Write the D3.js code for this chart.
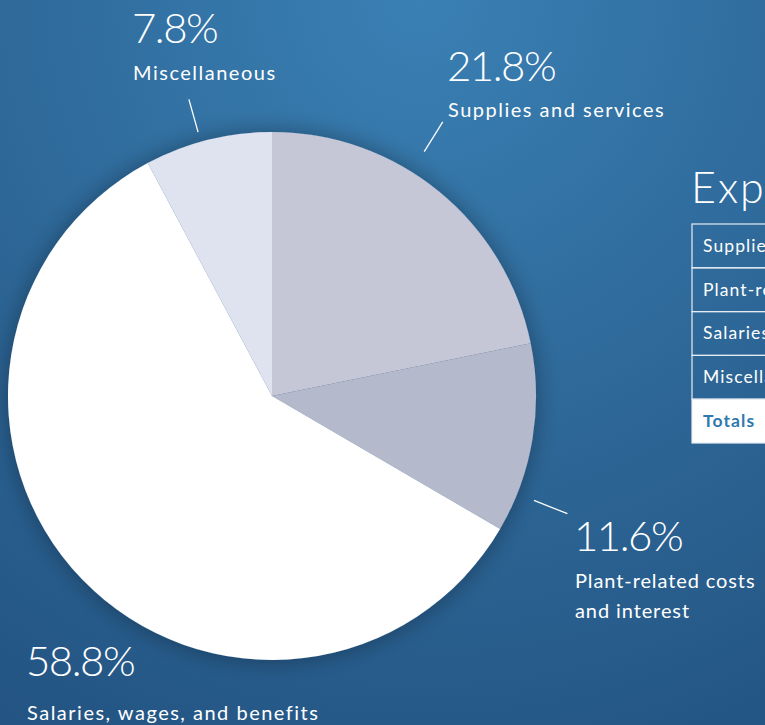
<!DOCTYPE html>
<html>
<head>
<meta charset="utf-8">
<script src="https://cdn.jsdelivr.net/npm/d3@7"></script>
<style>
  html, body { margin: 0; padding: 0; overflow: hidden; background: #2a6090; }
  svg { display: block; }
</style>
</head>
<body>
<svg id="chart" width="765" height="725"></svg>
<script>
const categories = ['Supplies and services', 'Plant-related costs and interest', 'Salaries, wages, and benefits', 'Miscellaneous'];
const shares = [21.8, 11.6, 58.8, 7.8];
const sliceColors = ['#c5c7d7', '#b4b9cb', '#ffffff', '#dfe2ef'];
const labelLines = [['Supplies and services'], ['Plant-related costs', 'and interest'], ['Salaries, wages, and benefits'], ['Miscellaneous']];
const tableTitle = 'Expenditures';
const tableRows = ['Supplies and services', 'Plant-related costs and interest', 'Salaries, wages, and benefits', 'Miscellaneous', 'Totals'];

const width = 765, height = 725;
const cx = 272, cy = 396, radius = 264;
const numFont = 'Lato, sans-serif';
const txtFont = 'Lato, "Open Sans", sans-serif';

const svg = d3.select('#chart');
const defs = svg.append('defs');

const bg = defs.append('radialGradient')
  .attr('id', 'bg')
  .attr('gradientUnits', 'userSpaceOnUse')
  .attr('cx', 420).attr('cy', 0).attr('r', 900);
bg.append('stop').attr('offset', '0%').attr('stop-color', '#3a80b4');
bg.append('stop').attr('offset', '55%').attr('stop-color', '#2c6595');
bg.append('stop').attr('offset', '100%').attr('stop-color', '#21507e');

const shadow = defs.append('filter')
  .attr('id', 'shadow')
  .attr('x', '-20%').attr('y', '-20%').attr('width', '140%').attr('height', '140%');
shadow.append('feGaussianBlur').attr('in', 'SourceAlpha').attr('stdDeviation', 12);
shadow.append('feComponentTransfer').append('feFuncA').attr('type', 'linear').attr('slope', 0.35);
const merge = shadow.append('feMerge');
merge.append('feMergeNode');
merge.append('feMergeNode').attr('in', 'SourceGraphic');

svg.append('rect').attr('width', width).attr('height', height).attr('fill', 'url(#bg)');

// pie
const pie = d3.pie().sort(null).value(d => d);
const arc = d3.arc().innerRadius(0).outerRadius(radius);
const arcs = pie(shares);

const g = svg.append('g')
  .attr('transform', `translate(${cx},${cy})`)
  .attr('filter', 'url(#shadow)');

g.selectAll('path')
  .data(arcs)
  .join('path')
  .attr('d', arc)
  .attr('fill', (d, i) => sliceColors[i]);

// leader lines (angle from 12 o'clock, inner and outer radius)
const leader = [
  { a: 0.557, r0: 288, r1: 323 },
  { a: 1.95, r0: 282, r1: 318 },
  null,
  { a: 6.01, r0: 274, r1: 308 }
];

svg.append('g')
  .selectAll('line')
  .data(arcs.filter((d, i) => leader[i]))
  .join('line')
  .each(function (d) {
    const l = leader[d.index];
    d3.select(this)
      .attr('x1', cx + l.r0 * Math.sin(l.a))
      .attr('y1', cy - l.r0 * Math.cos(l.a))
      .attr('x2', cx + l.r1 * Math.sin(l.a))
      .attr('y2', cy - l.r1 * Math.cos(l.a));
  })
  .attr('stroke', '#ffffff')
  .attr('stroke-width', 1.3);

// labels
const labelPos = [
  { x: 447, y: 81, dy: 36, ls: 1.5 },
  { x: 574, y: 551, dy: 37, ls: 0.9 },
  { x: 26, y: 676, dy: 44, ls: 1.5 },
  { x: 132, y: 43, dy: 37, ls: 1.5 }
];

const labels = svg.append('g')
  .selectAll('g')
  .data(arcs)
  .join('g')
  .attr('transform', (d, i) => `translate(${labelPos[i].x},${labelPos[i].y})`);

labels.append('text')
  .text(d => d3.format('.1f')(d.data) + '%')
  .attr('font-family', numFont)
  .attr('font-weight', 300)
  .attr('font-size', 42)
  .attr('letter-spacing', -1.5)
  .attr('fill', '#ffffff');

labels.each(function (d, i) {
  d3.select(this).selectAll('text.cat')
    .data(labelLines[i])
    .join('text')
    .attr('class', 'cat')
    .text(t => t)
    .attr('x', 1)
    .attr('y', (t, j) => labelPos[i].dy + j * 30)
    .attr('font-family', txtFont)
    .attr('font-size', 20)
    .attr('letter-spacing', labelPos[i].ls)
    .attr('fill', '#ffffff');
});

// table
const tx = 692, ty = 224, rowH = 43.8, tw = 200;
svg.append('text')
  .text(tableTitle)
  .attr('x', tx - 1).attr('y', 203)
  .attr('font-family', numFont)
  .attr('font-weight', 300)
  .attr('font-size', 43)
  .attr('letter-spacing', 2)
  .attr('fill', '#ffffff');

const rows = svg.append('g')
  .selectAll('g')
  .data(tableRows)
  .join('g')
  .attr('transform', (d, i) => `translate(${tx},${ty + i * rowH})`);

rows.append('rect')
  .attr('width', tw).attr('height', rowH)
  .attr('fill', (d, i) => i === tableRows.length - 1 ? '#ffffff' : 'none')
  .attr('stroke', '#e6ebf2')
  .attr('stroke-width', 1.2);

rows.append('text')
  .text(d => d)
  .attr('x', 11).attr('y', rowH / 2 + 6)
  .attr('font-family', txtFont)
  .attr('font-size', 17.5)
  .attr('letter-spacing', 1.1)
  .attr('font-weight', (d, i) => i === tableRows.length - 1 ? 700 : 400)
  .attr('fill', (d, i) => i === tableRows.length - 1 ? '#2f79b0' : '#ffffff');
</script>
</body>
</html>
